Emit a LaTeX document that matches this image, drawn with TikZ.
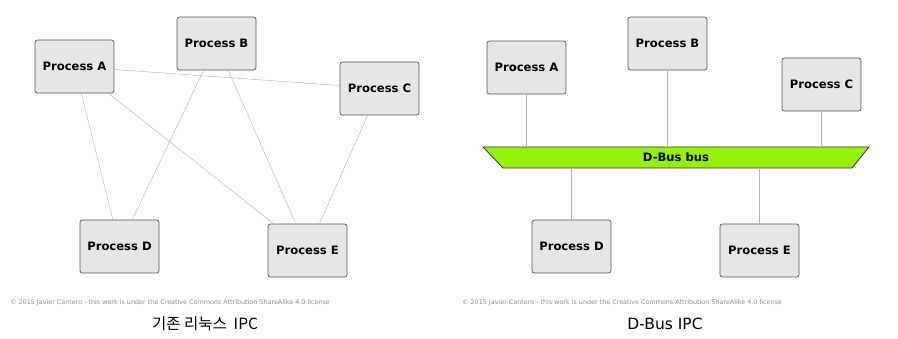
\documentclass[tikz,border=0pt]{standalone}
\usepackage{fontspec}
\setmainfont{DejaVu Sans}
\newfontfamily\krfont{Noto Sans CJK KR}
\usetikzlibrary{positioning,calc}

\definecolor{boxfill}{HTML}{E6E6E6}
\definecolor{boxline}{HTML}{555555}
\definecolor{linkgray}{HTML}{B4B4B4}
\definecolor{busgreen}{HTML}{96F00A}

\begin{document}
\begin{tikzpicture}[
    x=1pt, y=-1pt,
    proc/.style={rectangle, rounded corners=2.5pt, draw=boxline, line width=0.7pt, fill=boxfill,
        minimum width=79pt, minimum height=53pt, font=\bfseries\fontsize{11.6}{13}\selectfont},
    link/.style={draw=linkgray, line width=0.45pt},
    busshape/.style={draw=black!80, line width=0.8pt, fill=busgreen},
    note/.style={font=\fontsize{6.4}{7}\selectfont, text=black!45, anchor=west, inner sep=0pt},
    title/.style={font=\fontsize{15.5}{18}\selectfont},
]
\useasboundingbox (0,0) rectangle (898,338);

% Classic Linux IPC: every process talks to the others
\node[proc] (la) at (74.5,66.5) {Process A};
\node[proc] (lb) at (216.5,43.5) {Process B};
\node[proc] (lc) at (379.5,88.5) {Process C};
\node[proc] (ld) at (119.5,246.5) {Process D};
\node[proc] (le) at (307.5,250.5) {Process E};

\draw[link] ($(la.east)+(0,3)$) -- ($(lc.west)+(0,-3)$);
\draw[link] (la) -- (ld);
\draw[link] (la) -- (le);
\draw[link] (lb) -- (ld);
\draw[link] (lb) -- (le);
\draw[link] (lc) -- (le);

\node[note] (lnote) at (10,303) {\textcopyright{} 2015 Javier Cantero - this work is under the Creative Commons Attribution ShareAlike 4.0 license};
\node[title] (ltitle) at (205,324) {\krfont 기존 리눅스\ \ IPC};

% D-Bus IPC: every process hangs off one bus
\draw[busshape] (483,147) coordinate (bustl) -- (869,147) coordinate (bustr)
    -- (852,168) coordinate (busbr) -- (503,168) coordinate (busbl) -- cycle;
\node[inner sep=0pt, minimum width=386pt, minimum height=21pt,
    font=\bfseries\fontsize{11.6}{13}\selectfont] (dbus) at (676,157.5) {D-Bus bus};

\node[proc] (ra) at (526.5,67.5) {Process A};
\node[proc] (rb) at (667.5,43.5) {Process B};
\node[proc] (rc) at (821.5,84.5) {Process C};
\node[proc] (rd) at (571.5,246.5) {Process D};
\node[proc] (re) at (759.5,250.5) {Process E};

\foreach \p in {ra,rb,rc}
    \draw[link] (\p.south) -- (\p.south |- dbus.north);
\foreach \p in {rd,re}
    \draw[link] (\p.north) -- (\p.north |- dbus.south);

\node[note] (rnote) at (462,303) {\textcopyright{} 2015 Javier Cantero - this work is under the Creative Commons Attribution ShareAlike 4.0 license};
\node[title] (rtitle) at (665,324) {D-Bus IPC};

\end{tikzpicture}
\end{document}
